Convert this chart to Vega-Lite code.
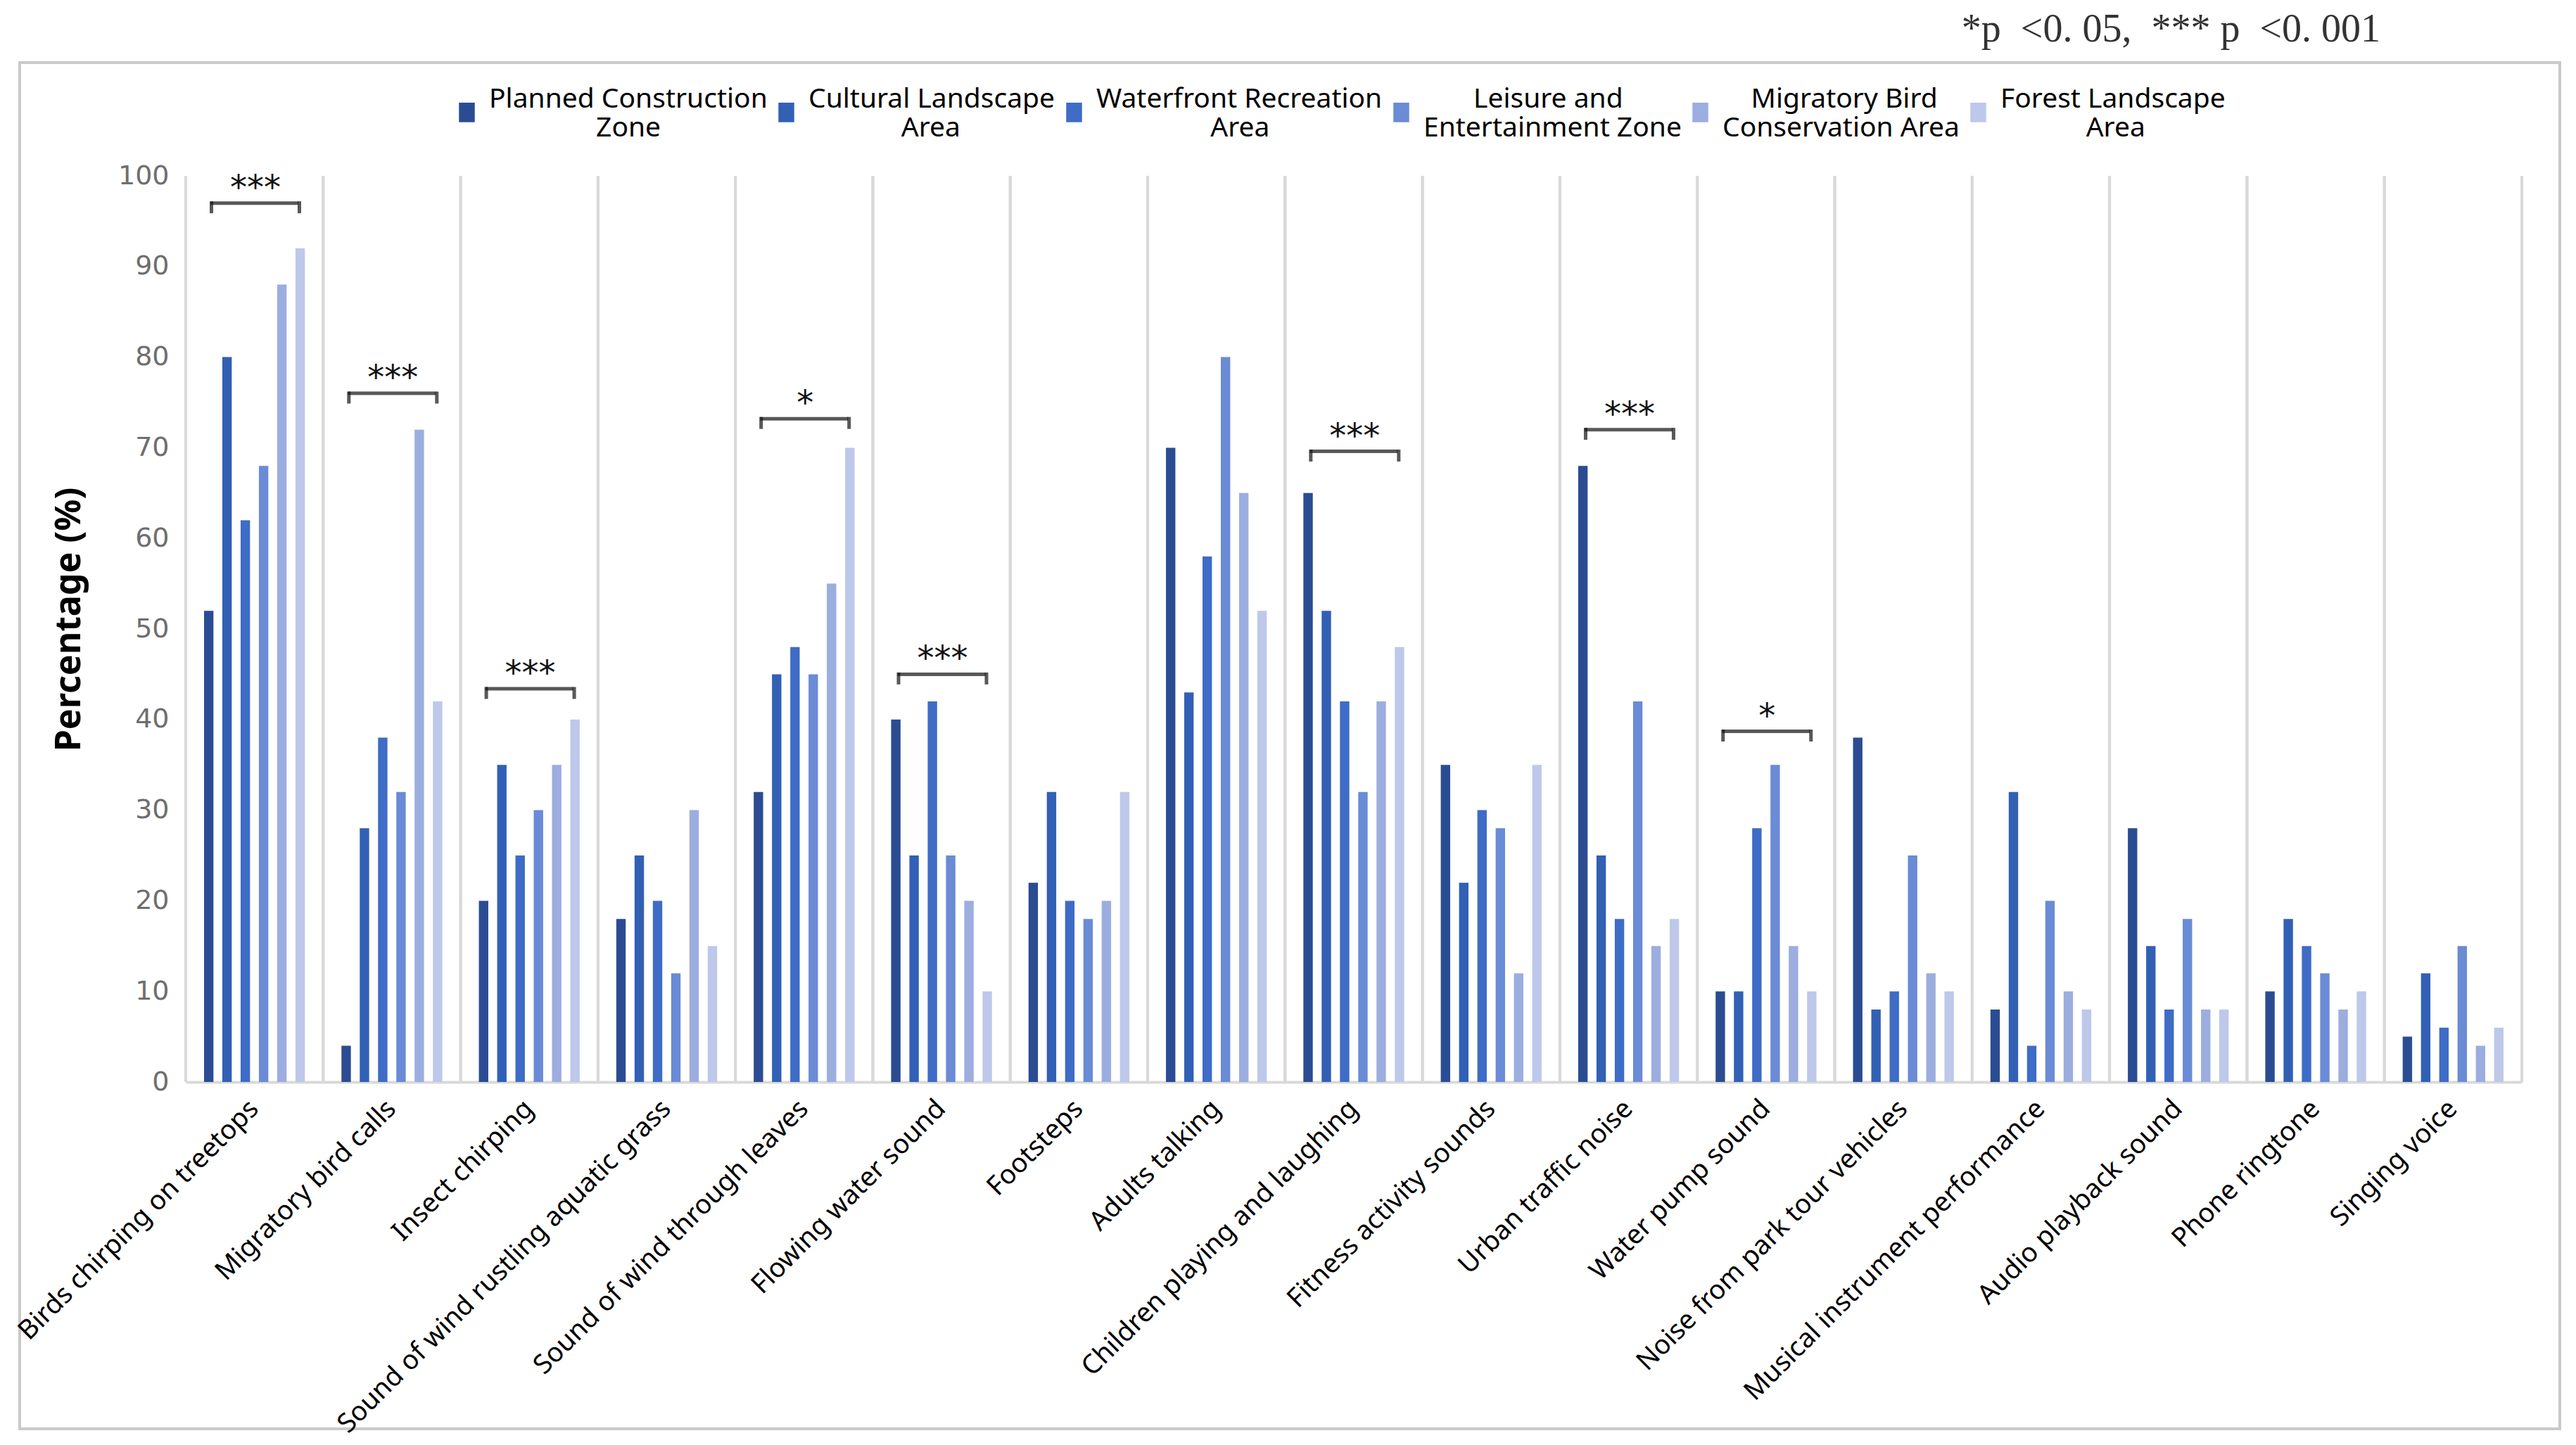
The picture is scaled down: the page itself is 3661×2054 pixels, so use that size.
{
  "$schema": "https://vega.github.io/schema/vega-lite/v6.json",
  "autosize": {"type": "none"},
  "width": 3610,
  "height": 1942,
  "padding": {"left": 28, "top": 89, "right": 23, "bottom": 23},
  "background": "white",
  "config": {"view": {"stroke": "#C9C9C9", "strokeWidth": 4}, "font": "Noto Sans"},
  "title": {"text": "*p \u00a0<0. 05, \u00a0*** p \u00a0<0. 001", "anchor": "end", "frame": "group", "orient": "top", "offset": 18, "dx": -255, "font": "Liberation Serif", "fontSize": 56, "fontWeight": "normal", "color": "#333333"},
  "datasets": {
    "sounds": [
      {"sound": "Birds chirping on treetops"}, {"sound": "Migratory bird calls"}, {"sound": "Insect chirping"},
      {"sound": "Sound of wind rustling aquatic grass"}, {"sound": "Sound of wind through leaves"}, {"sound": "Flowing water sound"},
      {"sound": "Footsteps"}, {"sound": "Adults talking"}, {"sound": "Children playing and laughing"},
      {"sound": "Fitness activity sounds"}, {"sound": "Urban traffic noise"}, {"sound": "Water pump sound"},
      {"sound": "Noise from park tour vehicles"}, {"sound": "Musical instrument performance"}, {"sound": "Audio playback sound"},
      {"sound": "Phone ringtone"}, {"sound": "Singing voice"}
    ],
    "brackets": [
      {"sound": "Birds chirping on treetops", "y": 97, "stars": "***"},
      {"sound": "Migratory bird calls", "y": 76, "stars": "***"},
      {"sound": "Insect chirping", "y": 43.4, "stars": "***"},
      {"sound": "Sound of wind through leaves", "y": 73.2, "stars": "*"},
      {"sound": "Flowing water sound", "y": 45, "stars": "***"},
      {"sound": "Children playing and laughing", "y": 69.6, "stars": "***"},
      {"sound": "Urban traffic noise", "y": 72, "stars": "***"},
      {"sound": "Water pump sound", "y": 38.7, "stars": "*"}
    ],
    "bars": [
      {"sound": "Birds chirping on treetops", "zone": "Planned Construction Zone", "pct": 52},
      {"sound": "Birds chirping on treetops", "zone": "Cultural Landscape Area", "pct": 80},
      {"sound": "Birds chirping on treetops", "zone": "Waterfront Recreation Area", "pct": 62},
      {"sound": "Birds chirping on treetops", "zone": "Leisure and Entertainment Zone", "pct": 68},
      {"sound": "Birds chirping on treetops", "zone": "Migratory Bird Conservation Area", "pct": 88},
      {"sound": "Birds chirping on treetops", "zone": "Forest Landscape Area", "pct": 92},
      {"sound": "Migratory bird calls", "zone": "Planned Construction Zone", "pct": 4},
      {"sound": "Migratory bird calls", "zone": "Cultural Landscape Area", "pct": 28},
      {"sound": "Migratory bird calls", "zone": "Waterfront Recreation Area", "pct": 38},
      {"sound": "Migratory bird calls", "zone": "Leisure and Entertainment Zone", "pct": 32},
      {"sound": "Migratory bird calls", "zone": "Migratory Bird Conservation Area", "pct": 72},
      {"sound": "Migratory bird calls", "zone": "Forest Landscape Area", "pct": 42},
      {"sound": "Insect chirping", "zone": "Planned Construction Zone", "pct": 20},
      {"sound": "Insect chirping", "zone": "Cultural Landscape Area", "pct": 35},
      {"sound": "Insect chirping", "zone": "Waterfront Recreation Area", "pct": 25},
      {"sound": "Insect chirping", "zone": "Leisure and Entertainment Zone", "pct": 30},
      {"sound": "Insect chirping", "zone": "Migratory Bird Conservation Area", "pct": 35},
      {"sound": "Insect chirping", "zone": "Forest Landscape Area", "pct": 40},
      {"sound": "Sound of wind rustling aquatic grass", "zone": "Planned Construction Zone", "pct": 18},
      {"sound": "Sound of wind rustling aquatic grass", "zone": "Cultural Landscape Area", "pct": 25},
      {"sound": "Sound of wind rustling aquatic grass", "zone": "Waterfront Recreation Area", "pct": 20},
      {"sound": "Sound of wind rustling aquatic grass", "zone": "Leisure and Entertainment Zone", "pct": 12},
      {"sound": "Sound of wind rustling aquatic grass", "zone": "Migratory Bird Conservation Area", "pct": 30},
      {"sound": "Sound of wind rustling aquatic grass", "zone": "Forest Landscape Area", "pct": 15},
      {"sound": "Sound of wind through leaves", "zone": "Planned Construction Zone", "pct": 32},
      {"sound": "Sound of wind through leaves", "zone": "Cultural Landscape Area", "pct": 45},
      {"sound": "Sound of wind through leaves", "zone": "Waterfront Recreation Area", "pct": 48},
      {"sound": "Sound of wind through leaves", "zone": "Leisure and Entertainment Zone", "pct": 45},
      {"sound": "Sound of wind through leaves", "zone": "Migratory Bird Conservation Area", "pct": 55},
      {"sound": "Sound of wind through leaves", "zone": "Forest Landscape Area", "pct": 70},
      {"sound": "Flowing water sound", "zone": "Planned Construction Zone", "pct": 40},
      {"sound": "Flowing water sound", "zone": "Cultural Landscape Area", "pct": 25},
      {"sound": "Flowing water sound", "zone": "Waterfront Recreation Area", "pct": 42},
      {"sound": "Flowing water sound", "zone": "Leisure and Entertainment Zone", "pct": 25},
      {"sound": "Flowing water sound", "zone": "Migratory Bird Conservation Area", "pct": 20},
      {"sound": "Flowing water sound", "zone": "Forest Landscape Area", "pct": 10},
      {"sound": "Footsteps", "zone": "Planned Construction Zone", "pct": 22},
      {"sound": "Footsteps", "zone": "Cultural Landscape Area", "pct": 32},
      {"sound": "Footsteps", "zone": "Waterfront Recreation Area", "pct": 20},
      {"sound": "Footsteps", "zone": "Leisure and Entertainment Zone", "pct": 18},
      {"sound": "Footsteps", "zone": "Migratory Bird Conservation Area", "pct": 20},
      {"sound": "Footsteps", "zone": "Forest Landscape Area", "pct": 32},
      {"sound": "Adults talking", "zone": "Planned Construction Zone", "pct": 70},
      {"sound": "Adults talking", "zone": "Cultural Landscape Area", "pct": 43},
      {"sound": "Adults talking", "zone": "Waterfront Recreation Area", "pct": 58},
      {"sound": "Adults talking", "zone": "Leisure and Entertainment Zone", "pct": 80},
      {"sound": "Adults talking", "zone": "Migratory Bird Conservation Area", "pct": 65},
      {"sound": "Adults talking", "zone": "Forest Landscape Area", "pct": 52},
      {"sound": "Children playing and laughing", "zone": "Planned Construction Zone", "pct": 65},
      {"sound": "Children playing and laughing", "zone": "Cultural Landscape Area", "pct": 52},
      {"sound": "Children playing and laughing", "zone": "Waterfront Recreation Area", "pct": 42},
      {"sound": "Children playing and laughing", "zone": "Leisure and Entertainment Zone", "pct": 32},
      {"sound": "Children playing and laughing", "zone": "Migratory Bird Conservation Area", "pct": 42},
      {"sound": "Children playing and laughing", "zone": "Forest Landscape Area", "pct": 48},
      {"sound": "Fitness activity sounds", "zone": "Planned Construction Zone", "pct": 35},
      {"sound": "Fitness activity sounds", "zone": "Cultural Landscape Area", "pct": 22},
      {"sound": "Fitness activity sounds", "zone": "Waterfront Recreation Area", "pct": 30},
      {"sound": "Fitness activity sounds", "zone": "Leisure and Entertainment Zone", "pct": 28},
      {"sound": "Fitness activity sounds", "zone": "Migratory Bird Conservation Area", "pct": 12},
      {"sound": "Fitness activity sounds", "zone": "Forest Landscape Area", "pct": 35},
      {"sound": "Urban traffic noise", "zone": "Planned Construction Zone", "pct": 68},
      {"sound": "Urban traffic noise", "zone": "Cultural Landscape Area", "pct": 25},
      {"sound": "Urban traffic noise", "zone": "Waterfront Recreation Area", "pct": 18},
      {"sound": "Urban traffic noise", "zone": "Leisure and Entertainment Zone", "pct": 42},
      {"sound": "Urban traffic noise", "zone": "Migratory Bird Conservation Area", "pct": 15},
      {"sound": "Urban traffic noise", "zone": "Forest Landscape Area", "pct": 18},
      {"sound": "Water pump sound", "zone": "Planned Construction Zone", "pct": 10},
      {"sound": "Water pump sound", "zone": "Cultural Landscape Area", "pct": 10},
      {"sound": "Water pump sound", "zone": "Waterfront Recreation Area", "pct": 28},
      {"sound": "Water pump sound", "zone": "Leisure and Entertainment Zone", "pct": 35},
      {"sound": "Water pump sound", "zone": "Migratory Bird Conservation Area", "pct": 15},
      {"sound": "Water pump sound", "zone": "Forest Landscape Area", "pct": 10},
      {"sound": "Noise from park tour vehicles", "zone": "Planned Construction Zone", "pct": 38},
      {"sound": "Noise from park tour vehicles", "zone": "Cultural Landscape Area", "pct": 8},
      {"sound": "Noise from park tour vehicles", "zone": "Waterfront Recreation Area", "pct": 10},
      {"sound": "Noise from park tour vehicles", "zone": "Leisure and Entertainment Zone", "pct": 25},
      {"sound": "Noise from park tour vehicles", "zone": "Migratory Bird Conservation Area", "pct": 12},
      {"sound": "Noise from park tour vehicles", "zone": "Forest Landscape Area", "pct": 10},
      {"sound": "Musical instrument performance", "zone": "Planned Construction Zone", "pct": 8},
      {"sound": "Musical instrument performance", "zone": "Cultural Landscape Area", "pct": 32},
      {"sound": "Musical instrument performance", "zone": "Waterfront Recreation Area", "pct": 4},
      {"sound": "Musical instrument performance", "zone": "Leisure and Entertainment Zone", "pct": 20},
      {"sound": "Musical instrument performance", "zone": "Migratory Bird Conservation Area", "pct": 10},
      {"sound": "Musical instrument performance", "zone": "Forest Landscape Area", "pct": 8},
      {"sound": "Audio playback sound", "zone": "Planned Construction Zone", "pct": 28},
      {"sound": "Audio playback sound", "zone": "Cultural Landscape Area", "pct": 15},
      {"sound": "Audio playback sound", "zone": "Waterfront Recreation Area", "pct": 8},
      {"sound": "Audio playback sound", "zone": "Leisure and Entertainment Zone", "pct": 18},
      {"sound": "Audio playback sound", "zone": "Migratory Bird Conservation Area", "pct": 8},
      {"sound": "Audio playback sound", "zone": "Forest Landscape Area", "pct": 8},
      {"sound": "Phone ringtone", "zone": "Planned Construction Zone", "pct": 10},
      {"sound": "Phone ringtone", "zone": "Cultural Landscape Area", "pct": 18},
      {"sound": "Phone ringtone", "zone": "Waterfront Recreation Area", "pct": 15},
      {"sound": "Phone ringtone", "zone": "Leisure and Entertainment Zone", "pct": 12},
      {"sound": "Phone ringtone", "zone": "Migratory Bird Conservation Area", "pct": 8},
      {"sound": "Phone ringtone", "zone": "Forest Landscape Area", "pct": 10},
      {"sound": "Singing voice", "zone": "Planned Construction Zone", "pct": 5},
      {"sound": "Singing voice", "zone": "Cultural Landscape Area", "pct": 12},
      {"sound": "Singing voice", "zone": "Waterfront Recreation Area", "pct": 6},
      {"sound": "Singing voice", "zone": "Leisure and Entertainment Zone", "pct": 15},
      {"sound": "Singing voice", "zone": "Migratory Bird Conservation Area", "pct": 4},
      {"sound": "Singing voice", "zone": "Forest Landscape Area", "pct": 6}
    ]
  },
  "layer": [
    {
      "data": {"name": "sounds"},
      "mark": {"type": "rule", "color": "#D9D9D9", "strokeWidth": 4},
      "encoding": {
        "x": {"field": "sound", "type": "nominal", "sort": null, "bandPosition": 0,
              "scale": {"domain": ["Birds chirping on treetops", "Migratory bird calls", "Insect chirping", "Sound of wind rustling aquatic grass", "Sound of wind through leaves", "Flowing water sound", "Footsteps", "Adults talking", "Children playing and laughing", "Fitness activity sounds", "Urban traffic noise", "Water pump sound", "Noise from park tour vehicles", "Musical instrument performance", "Audio playback sound", "Phone ringtone", "Singing voice"], "range": [236, 3556], "paddingInner": 0, "paddingOuter": 0},
              "axis": {"title": null, "offset": -493, "domainColor": "#D9D9D9", "domainWidth": 4, "ticks": false, "grid": false, "labelAngle": -45, "labelAlign": "right", "labelBaseline": "middle", "labelFontSize": 38, "labelFont": "Noto Sans", "labelColor": "#000000", "labelPadding": 32, "labelLimit": 0}},
        "y": {"datum": 0, "type": "quantitative", "scale": {"domain": [0, 100], "range": [1449, 161], "nice": false},
              "axis": {"title": "Percentage (%)", "offset": -236, "domain": false, "ticks": false, "grid": false, "values": [0, 10, 20, 30, 40, 50, 60, 70, 80, 90, 100], "labelFontSize": 38, "labelFont": "DejaVu Sans", "labelColor": "#6E6E6E", "labelPadding": 24, "titleFont": "Noto Sans", "titleFontSize": 50, "titleFontWeight": "bold", "titleColor": "#000000", "titleX": -166, "titleY": 791, "titleAngle": -90, "titleAlign": "center", "titleBaseline": "middle"}},
        "y2": {"datum": 100}
      }
    },
    {
      "data": {"name": "sounds"},
      "mark": {"type": "rule", "color": "#D9D9D9", "strokeWidth": 4},
      "encoding": {
        "x": {"field": "sound", "type": "nominal", "sort": null, "bandPosition": 1,
              "scale": {"domain": ["Birds chirping on treetops", "Migratory bird calls", "Insect chirping", "Sound of wind rustling aquatic grass", "Sound of wind through leaves", "Flowing water sound", "Footsteps", "Adults talking", "Children playing and laughing", "Fitness activity sounds", "Urban traffic noise", "Water pump sound", "Noise from park tour vehicles", "Musical instrument performance", "Audio playback sound", "Phone ringtone", "Singing voice"], "range": [236, 3556], "paddingInner": 0, "paddingOuter": 0},
              "axis": {"title": null, "offset": -493, "domainColor": "#D9D9D9", "domainWidth": 4, "ticks": false, "grid": false, "labelAngle": -45, "labelAlign": "right", "labelBaseline": "middle", "labelFontSize": 38, "labelFont": "Noto Sans", "labelColor": "#000000", "labelPadding": 32, "labelLimit": 0}},
        "y": {"datum": 0, "type": "quantitative", "scale": {"domain": [0, 100], "range": [1449, 161], "nice": false},
              "axis": {"title": "Percentage (%)", "offset": -236, "domain": false, "ticks": false, "grid": false, "values": [0, 10, 20, 30, 40, 50, 60, 70, 80, 90, 100], "labelFontSize": 38, "labelFont": "DejaVu Sans", "labelColor": "#6E6E6E", "labelPadding": 24, "titleFont": "Noto Sans", "titleFontSize": 50, "titleFontWeight": "bold", "titleColor": "#000000", "titleX": -166, "titleY": 791, "titleAngle": -90, "titleAlign": "center", "titleBaseline": "middle"}},
        "y2": {"datum": 100}
      }
    },
    {
      "data": {"name": "bars"},
      "mark": {"type": "bar"},
      "encoding": {
        "x": {"field": "sound", "type": "nominal", "sort": null,
              "scale": {"domain": ["Birds chirping on treetops", "Migratory bird calls", "Insect chirping", "Sound of wind rustling aquatic grass", "Sound of wind through leaves", "Flowing water sound", "Footsteps", "Adults talking", "Children playing and laughing", "Fitness activity sounds", "Urban traffic noise", "Water pump sound", "Noise from park tour vehicles", "Musical instrument performance", "Audio playback sound", "Phone ringtone", "Singing voice"], "range": [236, 3556], "paddingInner": 0, "paddingOuter": 0},
              "axis": {"title": null, "offset": -493, "domainColor": "#D9D9D9", "domainWidth": 4, "ticks": false, "grid": false, "labelAngle": -45, "labelAlign": "right", "labelBaseline": "middle", "labelFontSize": 38, "labelFont": "Noto Sans", "labelColor": "#000000", "labelPadding": 32, "labelLimit": 0}},
        "xOffset": {"field": "zone", "type": "nominal", "sort": null,
                    "scale": {"domain": ["Planned Construction Zone", "Cultural Landscape Area", "Waterfront Recreation Area", "Leisure and Entertainment Zone", "Migratory Bird Conservation Area", "Forest Landscape Area"], "paddingInner": 0.485, "paddingOuter": 1.3}},
        "y": {"field": "pct", "type": "quantitative",
              "scale": {"domain": [0, 100], "range": [1449, 161], "nice": false},
              "axis": {"title": "Percentage (%)", "offset": -236, "domain": false, "ticks": false, "grid": false, "values": [0, 10, 20, 30, 40, 50, 60, 70, 80, 90, 100], "labelFontSize": 38, "labelFont": "DejaVu Sans", "labelColor": "#6E6E6E", "labelPadding": 24, "titleFont": "Noto Sans", "titleFontSize": 50, "titleFontWeight": "bold", "titleColor": "#000000", "titleX": -166, "titleY": 791, "titleAngle": -90, "titleAlign": "center", "titleBaseline": "middle"}},
        "color": {"field": "zone", "type": "nominal",
                  "scale": {"domain": ["Planned Construction Zone", "Cultural Landscape Area", "Waterfront Recreation Area", "Leisure and Entertainment Zone", "Migratory Bird Conservation Area", "Forest Landscape Area"], "range": ["#2B4C92", "#3260B4", "#3E6CC6", "#6A8BD5", "#9CADDF", "#BDC8EA"]},
                  "legend": {"title": null, "orient": "none", "legendX": 616, "legendY": 32, "direction": "horizontal", "padding": 0, "symbolType": "M-0.85,0.39H0.85V2.49H-0.85Z", "symbolSize": 700, "symbolStrokeWidth": 0, "labelFontSize": 39, "labelFont": "Noto Sans", "labelColor": "#000000", "labelLimit": 0, "labelAlign": "left", "labelOffset": 12, "columnPadding": 7,
                             "labelExpr": "datum.label == 'Planned Construction Zone' ? ['Planned Construction', '\u200b\u00a0\u00a0\u00a0\u00a0\u00a0\u00a0\u00a0\u00a0\u00a0\u00a0\u00a0\u00a0\u00a0\u00a0\u00a0Zone'] : datum.label == 'Cultural Landscape Area' ? ['Cultural Landscape', '\u200b\u00a0\u00a0\u00a0\u00a0\u00a0\u00a0\u00a0\u00a0\u00a0\u00a0\u00a0\u00a0\u00a0Area'] : datum.label == 'Waterfront Recreation Area' ? ['Waterfront Recreation', '\u200b\u00a0\u00a0\u00a0\u00a0\u00a0\u00a0\u00a0\u00a0\u00a0\u00a0\u00a0\u00a0\u00a0\u00a0\u00a0\u00a0Area'] : datum.label == 'Leisure and Entertainment Zone' ? ['\u200b\u00a0\u00a0\u00a0\u00a0\u00a0\u00a0\u00a0Leisure and', 'Entertainment Zone'] : datum.label == 'Migratory Bird Conservation Area' ? ['\u200b\u00a0\u00a0\u00a0\u00a0Migratory Bird', 'Conservation Area'] : ['Forest Landscape', '\u200b\u00a0\u00a0\u00a0\u00a0\u00a0\u00a0\u00a0\u00a0\u00a0\u00a0\u00a0\u00a0Area']"}}
      }
    },
    {
      "data": {"name": "brackets"},
      "mark": {"type": "tick", "orient": "horizontal", "size": 125, "thickness": 5, "color": "#111111"},
      "encoding": {
        "x": {"field": "sound", "type": "nominal", "sort": null, "bandPosition": 0.507,
              "scale": {"domain": ["Birds chirping on treetops", "Migratory bird calls", "Insect chirping", "Sound of wind rustling aquatic grass", "Sound of wind through leaves", "Flowing water sound", "Footsteps", "Adults talking", "Children playing and laughing", "Fitness activity sounds", "Urban traffic noise", "Water pump sound", "Noise from park tour vehicles", "Musical instrument performance", "Audio playback sound", "Phone ringtone", "Singing voice"], "range": [236, 3556], "paddingInner": 0, "paddingOuter": 0},
              "axis": {"title": null, "offset": -493, "domainColor": "#D9D9D9", "domainWidth": 4, "ticks": false, "grid": false, "labelAngle": -45, "labelAlign": "right", "labelBaseline": "middle", "labelFontSize": 38, "labelFont": "Noto Sans", "labelColor": "#000000", "labelPadding": 32, "labelLimit": 0}},
        "y": {"field": "y", "type": "quantitative", "scale": {"domain": [0, 100], "range": [1449, 161], "nice": false},
              "axis": {"title": "Percentage (%)", "offset": -236, "domain": false, "ticks": false, "grid": false, "values": [0, 10, 20, 30, 40, 50, 60, 70, 80, 90, 100], "labelFontSize": 38, "labelFont": "DejaVu Sans", "labelColor": "#6E6E6E", "labelPadding": 24, "titleFont": "Noto Sans", "titleFontSize": 50, "titleFontWeight": "bold", "titleColor": "#000000", "titleX": -166, "titleY": 791, "titleAngle": -90, "titleAlign": "center", "titleBaseline": "middle"}}
      }
    },
    {
      "data": {"name": "brackets"},
      "mark": {"type": "tick", "orient": "vertical", "size": 17, "thickness": 5, "yOffset": 6, "color": "#111111"},
      "encoding": {
        "x": {"field": "sound", "type": "nominal", "sort": null, "bandPosition": 0.187,
              "scale": {"domain": ["Birds chirping on treetops", "Migratory bird calls", "Insect chirping", "Sound of wind rustling aquatic grass", "Sound of wind through leaves", "Flowing water sound", "Footsteps", "Adults talking", "Children playing and laughing", "Fitness activity sounds", "Urban traffic noise", "Water pump sound", "Noise from park tour vehicles", "Musical instrument performance", "Audio playback sound", "Phone ringtone", "Singing voice"], "range": [236, 3556], "paddingInner": 0, "paddingOuter": 0},
              "axis": {"title": null, "offset": -493, "domainColor": "#D9D9D9", "domainWidth": 4, "ticks": false, "grid": false, "labelAngle": -45, "labelAlign": "right", "labelBaseline": "middle", "labelFontSize": 38, "labelFont": "Noto Sans", "labelColor": "#000000", "labelPadding": 32, "labelLimit": 0}},
        "y": {"field": "y", "type": "quantitative", "scale": {"domain": [0, 100], "range": [1449, 161], "nice": false},
              "axis": {"title": "Percentage (%)", "offset": -236, "domain": false, "ticks": false, "grid": false, "values": [0, 10, 20, 30, 40, 50, 60, 70, 80, 90, 100], "labelFontSize": 38, "labelFont": "DejaVu Sans", "labelColor": "#6E6E6E", "labelPadding": 24, "titleFont": "Noto Sans", "titleFontSize": 50, "titleFontWeight": "bold", "titleColor": "#000000", "titleX": -166, "titleY": 791, "titleAngle": -90, "titleAlign": "center", "titleBaseline": "middle"}}
      }
    },
    {
      "data": {"name": "brackets"},
      "mark": {"type": "tick", "orient": "vertical", "size": 17, "thickness": 5, "yOffset": 6, "color": "#111111"},
      "encoding": {
        "x": {"field": "sound", "type": "nominal", "sort": null, "bandPosition": 0.827,
              "scale": {"domain": ["Birds chirping on treetops", "Migratory bird calls", "Insect chirping", "Sound of wind rustling aquatic grass", "Sound of wind through leaves", "Flowing water sound", "Footsteps", "Adults talking", "Children playing and laughing", "Fitness activity sounds", "Urban traffic noise", "Water pump sound", "Noise from park tour vehicles", "Musical instrument performance", "Audio playback sound", "Phone ringtone", "Singing voice"], "range": [236, 3556], "paddingInner": 0, "paddingOuter": 0},
              "axis": {"title": null, "offset": -493, "domainColor": "#D9D9D9", "domainWidth": 4, "ticks": false, "grid": false, "labelAngle": -45, "labelAlign": "right", "labelBaseline": "middle", "labelFontSize": 38, "labelFont": "Noto Sans", "labelColor": "#000000", "labelPadding": 32, "labelLimit": 0}},
        "y": {"field": "y", "type": "quantitative", "scale": {"domain": [0, 100], "range": [1449, 161], "nice": false},
              "axis": {"title": "Percentage (%)", "offset": -236, "domain": false, "ticks": false, "grid": false, "values": [0, 10, 20, 30, 40, 50, 60, 70, 80, 90, 100], "labelFontSize": 38, "labelFont": "DejaVu Sans", "labelColor": "#6E6E6E", "labelPadding": 24, "titleFont": "Noto Sans", "titleFontSize": 50, "titleFontWeight": "bold", "titleColor": "#000000", "titleX": -166, "titleY": 791, "titleAngle": -90, "titleAlign": "center", "titleBaseline": "middle"}}
      }
    },
    {
      "data": {"name": "brackets"},
      "mark": {"type": "text", "font": "DejaVu Sans", "fontSize": 48, "baseline": "alphabetic", "align": "center", "dy": -6, "color": "#111111"},
      "encoding": {
        "x": {"field": "sound", "type": "nominal", "sort": null, "bandPosition": 0.507,
              "scale": {"domain": ["Birds chirping on treetops", "Migratory bird calls", "Insect chirping", "Sound of wind rustling aquatic grass", "Sound of wind through leaves", "Flowing water sound", "Footsteps", "Adults talking", "Children playing and laughing", "Fitness activity sounds", "Urban traffic noise", "Water pump sound", "Noise from park tour vehicles", "Musical instrument performance", "Audio playback sound", "Phone ringtone", "Singing voice"], "range": [236, 3556], "paddingInner": 0, "paddingOuter": 0},
              "axis": {"title": null, "offset": -493, "domainColor": "#D9D9D9", "domainWidth": 4, "ticks": false, "grid": false, "labelAngle": -45, "labelAlign": "right", "labelBaseline": "middle", "labelFontSize": 38, "labelFont": "Noto Sans", "labelColor": "#000000", "labelPadding": 32, "labelLimit": 0}},
        "y": {"field": "y", "type": "quantitative", "scale": {"domain": [0, 100], "range": [1449, 161], "nice": false},
              "axis": {"title": "Percentage (%)", "offset": -236, "domain": false, "ticks": false, "grid": false, "values": [0, 10, 20, 30, 40, 50, 60, 70, 80, 90, 100], "labelFontSize": 38, "labelFont": "DejaVu Sans", "labelColor": "#6E6E6E", "labelPadding": 24, "titleFont": "Noto Sans", "titleFontSize": 50, "titleFontWeight": "bold", "titleColor": "#000000", "titleX": -166, "titleY": 791, "titleAngle": -90, "titleAlign": "center", "titleBaseline": "middle"}},
        "text": {"field": "stars"}
      }
    }
  ]
}
